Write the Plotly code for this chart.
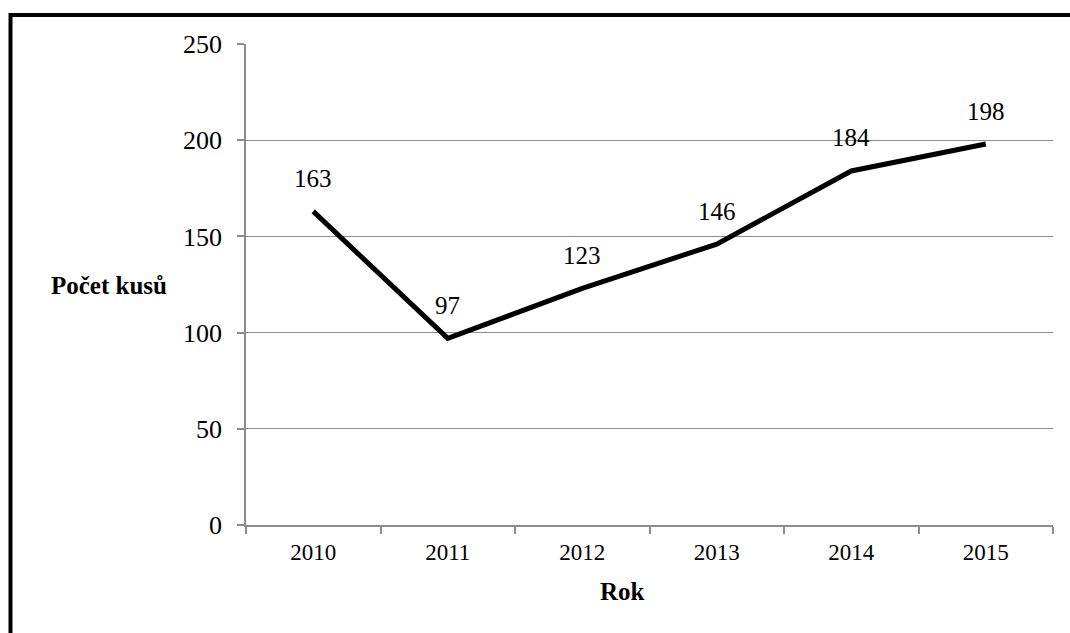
import plotly.graph_objects as go

# Yearly piece counts
years = ["2010", "2011", "2012", "2013", "2014", "2015"]
counts = [163, 97, 123, 146, 184, 198]
y_ticks = [0, 50, 100, 150, 200, 250]

W, H = 1070, 633
L, R, T, B = 246, 17, 43.5, 108
plot_w = W - L - R
plot_h = H - T - B

FONT = "Liberation Serif, Times New Roman, serif"
GRID = "#8c8c8c"

fig = go.Figure()
fig.add_trace(go.Scatter(
    x=years, y=counts, mode="lines",
    line=dict(color="black", width=5),
    hoverinfo="skip", showlegend=False,
))

# Value labels above each point
for i, v in enumerate(counts):
    fig.add_annotation(x=i, y=v, xref="x", yref="y", text=str(v),
                       showarrow=False, xanchor="center", yanchor="middle",
                       yshift=33, font=dict(family=FONT, size=25, color="black"))

px = lambda v: (v - L) / plot_w
py = lambda v: (H - B - v) / plot_h

# Axis titles
fig.add_annotation(xref="paper", yref="paper", x=px(109), y=py(285),
                   xanchor="center", yanchor="middle",
                   text="<b>Počet kusů</b>", showarrow=False,
                   font=dict(family=FONT, size=25, color="black"))
fig.add_annotation(xref="paper", yref="paper", x=px(622), y=py(592),
                   xanchor="center", yanchor="middle",
                   text="<b>Rok</b>", showarrow=False,
                   font=dict(family=FONT, size=25, color="black"))

# Outer frame (top and left edges)
fig.add_shape(type="line", xref="paper", yref="paper",
              x0=px(10.5), x1=px(W + 5), y0=py(14.5), y1=py(14.5),
              line=dict(color="black", width=4))
fig.add_shape(type="line", xref="paper", yref="paper",
              x0=px(10.5), x1=px(10.5), y0=py(12.5), y1=py(H + 5),
              line=dict(color="black", width=4))

fig.update_layout(
    width=W, height=H,
    margin=dict(l=L, r=R, t=T, b=B, pad=0),
    paper_bgcolor="white", plot_bgcolor="white",
    xaxis=dict(
        type="category", tickson="boundaries",
        showgrid=False, showline=True, linecolor=GRID, linewidth=1.5,
        ticks="outside", ticklen=7, tickcolor=GRID, tickwidth=1.5,
        tickfont=dict(family=FONT, size=23, color="black"),
        ticklabelstandoff=6,
        range=[-0.5, 5.5], fixedrange=True,
    ),
    yaxis=dict(
        range=[0, 250], tickvals=y_ticks,
        showgrid=True, gridcolor=GRID, gridwidth=1.3,
        zeroline=False, showline=True, linecolor=GRID, linewidth=1.5,
        ticks="outside", ticklen=7, tickcolor=GRID, tickwidth=1.5,
        tickfont=dict(family=FONT, size=26, color="black"),
        ticklabelstandoff=10, fixedrange=True,
    ),
)

fig.write_html("out.html")
